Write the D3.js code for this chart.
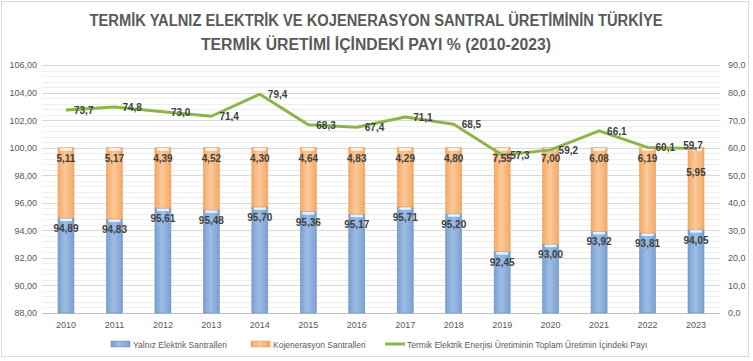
<!DOCTYPE html>
<html lang="tr">
<head>
<meta charset="UTF-8">
<title>Termik Üretim Payı</title>
<style>
    body { margin: 0; background: #fff; }
    svg { display: block; font-family: "Liberation Sans", Arial, sans-serif; }
</style>
</head>
<body>
<svg></svg>
<script src="https://cdnjs.cloudflare.com/ajax/libs/d3/7.8.5/d3.min.js"></script>
<script>
const years = ["2010","2011","2012","2013","2014","2015","2016","2017","2018","2019","2020","2021","2022","2023"];
const yalniz = [94.89,94.83,95.61,95.48,95.70,95.36,95.17,95.71,95.20,92.45,93.00,93.92,93.81,94.05];
const kojen = [5.11,5.17,4.39,4.52,4.30,4.64,4.83,4.29,4.80,7.55,7.00,6.08,6.19,5.95];
const termikPay = [73.7,74.8,73.0,71.4,79.4,68.3,67.4,71.1,68.5,57.3,59.2,66.1,60.1,59.7];
const leftTicks = [88,90,92,94,96,98,100,102,104,106];
const rightTicks = [0,10,20,30,40,50,60,70,80,90];
const legendNames = ["Yalnız Elektrik Santralleri", "Kojenerasyon Santralleri", "Termik Elektrik Enerjisi Üretiminin Toplam Üretimin İçindeki Payı"];

const width = 753, height = 361;
const plot = { left: 42, right: 720, top: 65, bottom: 313 };
const last = years.length - 1;

const svg = d3.select("svg").attr("width", width).attr("height", height);

// outer frame
svg.append("rect").attr("x", 1.5).attr("y", 1.5).attr("width", 747).attr("height", 355)
    .attr("fill", "#fff").attr("stroke", "#d9d9d9");

const x = d3.scaleBand().domain(years).range([plot.left, plot.right]).paddingInner(0.67).paddingOuter(0.33);
const yL = d3.scaleLinear().domain([88, 106]).range([plot.bottom, plot.top]);
const yR = d3.scaleLinear().domain([0, 90]).range([plot.bottom, plot.top]);

// bar gradients
const defs = svg.append("defs");
function grad(id, edge, mid) {
    const g = defs.append("linearGradient").attr("id", id).attr("x1", 0).attr("x2", 1).attr("y1", 0).attr("y2", 0);
    g.append("stop").attr("offset", "0%").attr("stop-color", edge);
    g.append("stop").attr("offset", "45%").attr("stop-color", mid);
    g.append("stop").attr("offset", "100%").attr("stop-color", edge);
}
grad("gBlue", "#7a9fd0", "#9dbde6");
grad("gOrange", "#f4a964", "#fcc99a");

// gridlines (minor then major)
const minor = d3.range(88, 106.01, 0.4);
svg.append("g").selectAll("line").data(minor).join("line")
    .attr("x1", plot.left).attr("x2", plot.right)
    .attr("y1", d => Math.round(yL(d)) + 0.5).attr("y2", d => Math.round(yL(d)) + 0.5)
    .attr("stroke", "#efefef");
svg.append("g").selectAll("line").data(leftTicks).join("line")
    .attr("x1", plot.left).attr("x2", plot.right)
    .attr("y1", d => Math.round(yL(d)) + 0.5).attr("y2", d => Math.round(yL(d)) + 0.5)
    .attr("stroke", d => d === 88 ? "#bfbfbf" : "#d9d9d9");

// axes
const fmt2 = d3.format(".2f"), fmt1 = d3.format(".1f");
const comma = s => s.replace(".", ",");
const axL = svg.append("g").attr("transform", `translate(${plot.left},0)`)
    .call(d3.axisLeft(yL).tickValues(leftTicks).tickSize(0).tickPadding(5).tickFormat(d => comma(fmt2(d))));
axL.select(".domain").remove();
axL.selectAll("text").attr("fill", "#595959").attr("font-size", 9);

const axR = svg.append("g").attr("transform", `translate(${plot.right},0)`)
    .call(d3.axisRight(yR).tickValues(rightTicks).tickSize(0).tickPadding(8).tickFormat(d => comma(fmt1(d))));
axR.select(".domain").remove();
axR.selectAll("text").attr("fill", "#595959").attr("font-size", 9);

const axB = svg.append("g").attr("transform", `translate(0,${plot.bottom})`)
    .call(d3.axisBottom(x).tickSize(0).tickPadding(9));
axB.select(".domain").remove();
axB.selectAll("text").attr("fill", "#595959").attr("font-size", 9);

// stacked bars
const bw = x.bandwidth();
const bars = svg.append("g").selectAll("g").data(years).join("g");
bars.append("rect")
    .attr("x", d => x(d)).attr("width", bw)
    .attr("y", (d, i) => yL(yalniz[i])).attr("height", (d, i) => yL(88) - yL(yalniz[i]))
    .attr("fill", "url(#gBlue)").attr("stroke", "#6f93c4").attr("stroke-width", 0.6);
bars.append("rect")
    .attr("x", d => x(d)).attr("width", bw)
    .attr("y", (d, i) => yL(yalniz[i] + kojen[i])).attr("height", (d, i) => yL(yalniz[i]) - yL(yalniz[i] + kojen[i]))
    .attr("fill", "url(#gOrange)").attr("stroke", "#e8a060").attr("stroke-width", 0.6);
// light caps on top of each segment
bars.append("rect")
    .attr("x", d => x(d) + 2).attr("width", bw - 4)
    .attr("y", (d, i) => yL(yalniz[i]) + 0.5).attr("height", 2.5)
    .attr("fill", "#e6f2fc");
bars.append("rect")
    .attr("x", d => x(d) + 2).attr("width", bw - 4)
    .attr("y", (d, i) => yL(yalniz[i] + kojen[i]) + 0.5).attr("height", 2.5)
    .attr("fill", "#fff3e6");

// share line
const cx = i => x(years[i]) + bw / 2;
const line = d3.line().x((d, i) => cx(i)).y(d => yR(d));
svg.append("path").datum(termikPay).attr("d", line)
    .attr("fill", "none").attr("stroke", "#8db44a").attr("stroke-width", 3).attr("stroke-linejoin", "round");

// data labels
const lab = svg.append("g").attr("font-size", 10).attr("font-weight", "bold").attr("fill", "#404040");
lab.selectAll(".lb").data(years).join("text")
    .attr("x", d => x(d) + bw / 2).attr("y", (d, i) => yL(yalniz[i]) + 14)
    .attr("text-anchor", "middle").text((d, i) => comma(fmt2(yalniz[i])));
lab.selectAll(".lo").data(years).join("text")
    .attr("x", d => x(d) + bw / 2)
    .attr("y", (d, i) => i === last ? yL(yalniz[i] + kojen[i]) + 28 : yL(yalniz[i] + kojen[i]) + 14)
    .attr("text-anchor", "middle").text((d, i) => comma(fmt2(kojen[i])));
lab.selectAll(".ll").data(termikPay).join("text")
    .attr("x", (d, i) => i === last ? cx(i) - 3 : cx(i) + 8)
    .attr("y", (d, i) => i === last ? yR(d) + 1 : yR(d) + 4)
    .attr("text-anchor", (d, i) => i === last ? "middle" : "start")
    .text(d => comma(fmt1(d)));

// title
const title = svg.append("g").attr("font-weight", "bold").attr("fill", "#595959").attr("font-size", 16)
    .attr("text-anchor", "middle");
title.append("text").attr("x", 376).attr("y", 26)
    .attr("textLength", 573).attr("lengthAdjust", "spacingAndGlyphs")
    .text("TERMİK YALNIZ ELEKTRİK VE KOJENERASYON SANTRAL ÜRETİMİNİN TÜRKİYE");
title.append("text").attr("x", 376).attr("y", 50)
    .attr("textLength", 350).attr("lengthAdjust", "spacingAndGlyphs")
    .text("TERMİK ÜRETİMİ İÇİNDEKİ PAYI %  (2010-2023)");

// legend
const lg = svg.append("g").attr("font-size", 8.5).attr("fill", "#595959");
const lgX = [111, 251, 385];
lg.append("rect").attr("x", lgX[0]).attr("y", 341).attr("width", 19).attr("height", 6)
    .attr("fill", "url(#gBlue)").attr("stroke", "#6f93c4").attr("stroke-width", 0.6);
lg.append("rect").attr("x", lgX[1]).attr("y", 341).attr("width", 19).attr("height", 6)
    .attr("fill", "url(#gOrange)").attr("stroke", "#e8a060").attr("stroke-width", 0.6);
lg.append("line").attr("x1", lgX[2]).attr("x2", lgX[2] + 20).attr("y1", 344).attr("y2", 344)
    .attr("stroke", "#8db44a").attr("stroke-width", 3);
lg.selectAll("text").data(legendNames).join("text")
    .attr("x", (d, i) => lgX[i] + 22).attr("y", 347.5).text(d => d);
</script>
</body>
</html>
